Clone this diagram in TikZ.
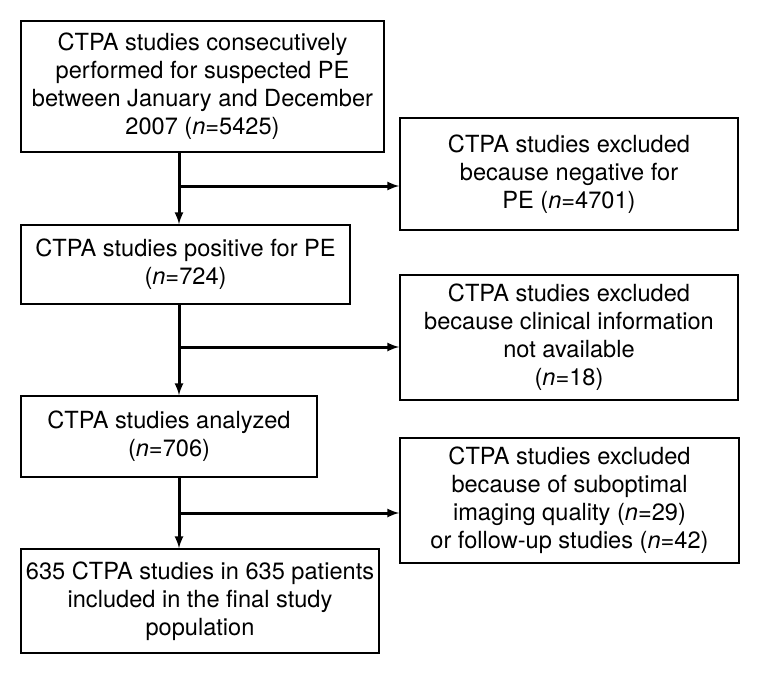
\documentclass[tikz,border=0pt]{standalone}
\usepackage{fontspec}
\setmainfont{TeX Gyre Heros}
\usetikzlibrary{arrows}

\begin{document}
\begin{tikzpicture}[x=1pt,y=-1pt]
\tikzstyle{every node}=[draw, line width=1.6pt, align=center, inner sep=0pt, font=\fontsize{23.6}{28}\selectfont]
\tikzstyle{flow}=[line width=3pt]
\useasboundingbox (0,0) rectangle (760,674);
% main column
\draw (202.5,86.5) node (b1) [minimum width=363pt, minimum height=131pt] {CTPA studies consecutively\\performed for suspected PE\\between January and December\\2007 (\textit{n}=5425)};
\draw (185.5,264.5) node (b2) [minimum width=329pt, minimum height=79pt] {CTPA studies positive for PE\\(\textit{n}=724)};
\draw (169,436.5) node (b3) [minimum width=296pt, minimum height=81pt] {CTPA studies analyzed\\(\textit{n}=706)};
\draw (200,601) node (b4) [minimum width=358pt, minimum height=104pt] {635 CTPA studies in 635 patients\\included in the final study\\population};
% excluded
\draw (569,174) node (e1) [minimum width=338pt, minimum height=112pt] {CTPA studies excluded\\because negative for\\PE (\textit{n}=4701)};
\draw (569,337.5) node (e2) [minimum width=338pt, minimum height=125pt] {CTPA studies excluded\\because clinical information\\not available\\(\textit{n}=18)};
\draw (569.5,500.5) node (e3) [minimum width=339pt, minimum height=125pt] {CTPA studies excluded\\because of suboptimal\\imaging quality (\textit{n}=29)\\or follow-up studies (\textit{n}=42)};
\coordinate (s1) at (179,186);
\coordinate (s2) at (179,347);
\coordinate (s3) at (179,513);
\draw[flow] (b1.south -| s1) -- (s1);
\draw[flow,-latex] (s1) -- (b2.north -| s1);
\draw[flow,-latex] (s1) -- (e1.west |- s1);
\draw[flow] (b2.south -| s2) -- (s2);
\draw[flow,-latex] (s2) -- (b3.north -| s2);
\draw[flow,-latex] (s2) -- (e2.west |- s2);
\draw[flow] (b3.south -| s3) -- (s3);
\draw[flow,-latex] (s3) -- (b4.north -| s3);
\draw[flow,-latex] (s3) -- (e3.west |- s3);
\end{tikzpicture}
\end{document}
